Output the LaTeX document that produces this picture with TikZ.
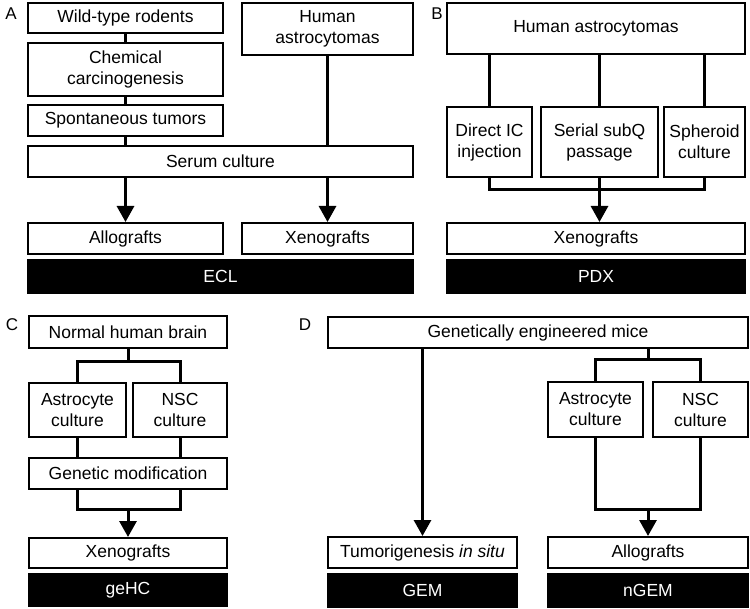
\documentclass[tikz,border=0pt]{standalone}
\usepackage{fontspec}
\setmainfont{Liberation Sans}
\usetikzlibrary{arrows.meta}
\newcommand\mkbox[7][]{%
  \node[bx,#1,minimum width={(#5-#3)*1pt},minimum height={(#6-#4)*1pt}] (#2) at ({(#3+#5)/2},{(#4+#6)/2}) {#7};}
\begin{document}
\begin{tikzpicture}[x=1pt,y=-1pt,
  bx/.style={draw,line width=2pt,inner sep=0pt,align=center,font=\fontsize{17.5}{21}\selectfont},
  blk/.style={fill=black,draw=black,text=white},
  conn/.style={line width=3pt},
  arr/.style={line width=3pt,-{Triangle[width=17pt,length=16pt]}},
  lbl/.style={font=\fontsize{17}{21}\selectfont,inner sep=0pt}]
\useasboundingbox (0,0) rectangle (750,609);
% labels
\node[lbl] (la) at (11,14) {A};
\node[lbl] (lb) at (437,14) {B};
\node[lbl] (lc) at (12,325) {C};
\node[lbl] (ld) at (305,325) {D};
% Panel A
\mkbox{wt}{28}{3}{223}{33}{Wild-type rodents}
\mkbox{cc}{28}{43}{223}{96}{Chemical\\carcinogenesis}
\mkbox{st}{28}{105}{223}{136}{Spontaneous tumors}
\mkbox{ha}{242}{3}{413}{55}{Human\\astrocytomas}
\mkbox{sc}{28}{146}{413}{177}{Serum culture}
\mkbox{allo}{28}{223}{223}{254}{Allografts}
\mkbox{xen}{242}{223}{413}{254}{Xenografts}
\mkbox[blk]{ecl}{28}{260}{413}{293}{ECL}
\draw[conn] (wt.south) -- (cc.north);
\draw[conn] (cc.south) -- (st.north);
\draw[conn] (st.south) -- (st.south |- sc.north);
\draw[conn] (ha.south) -- (ha.south |- sc.north);
\draw[arr] (sc.south -| allo.north) -- (allo.north);
\draw[arr] (sc.south -| xen.north) -- (xen.north);
% Panel B
\mkbox{hb}{447}{3}{745}{54}{Human astrocytomas}
\mkbox{dic}{447}{107}{532}{177}{Direct IC\\injection}
\mkbox{ssq}{541}{107}{658}{177}{Serial subQ\\passage}
\mkbox{sph}{664}{107}{745}{177}{Spheroid\\culture}
\mkbox{xb}{447}{223}{745}{254}{Xenografts}
\mkbox[blk]{pdx}{447}{260}{745}{293}{PDX}
\draw[conn] (hb.south -| dic.north) -- (dic.north);
\draw[conn] (hb.south -| ssq.north) -- (ssq.north);
\draw[conn] (hb.south -| sph.north) -- (sph.north);
\coordinate (bj) at (599.5,190);
\draw[conn] (dic.south) |- (bj) -| (sph.south);
\draw[arr] (ssq.south) -- (ssq.south |- xb.north);
% Panel C
\mkbox{nhb}{29}{316}{227}{348}{Normal human brain}
\mkbox{acc}{29}{383}{126}{437}{Astrocyte\\culture}
\mkbox{nscc}{133}{383}{227}{437}{NSC\\culture}
\mkbox{gm}{29}{458}{227}{489}{Genetic modification}
\mkbox{xc}{29}{538}{227}{568}{Xenografts}
\mkbox[blk]{gehc}{29}{574}{227}{606}{geHC}
\coordinate (cj1) at (128,362);
\coordinate (cj2) at (128,509);
\draw[conn] (nhb.south) -- (cj1);
\draw[conn] (acc.north) |- (cj1) -| (nscc.north);
\draw[conn] (acc.south) -- (acc.south |- gm.north);
\draw[conn] (nscc.south) -- (nscc.south |- gm.north);
\draw[conn] (acc.south |- gm.south) |- (cj2) -| (nscc.south |- gm.south);
\draw[arr] (cj2) -- (xc.north);
% Panel D
\mkbox{gem}{328}{317}{748}{348}{Genetically engineered mice}
\mkbox{acd}{548}{382}{643}{437}{Astrocyte\\culture}
\mkbox{nscd}{653}{382}{748}{437}{NSC\\culture}
\mkbox{tis}{328}{537}{517}{568}{Tumorigenesis \textit{in situ}}
\mkbox{ald}{548}{537}{748}{568}{Allografts}
\mkbox[blk]{gemb}{328}{574}{517}{607}{GEM}
\mkbox[blk]{ngem}{548}{574}{748}{607}{nGEM}
\coordinate (dj1) at (648,360);
\coordinate (dj2) at (648,509);
\draw[arr] (gem.south -| tis.north) -- (tis.north);
\draw[conn] (gem.south -| dj1) -- (dj1);
\draw[conn] (acd.north) |- (dj1) -| (nscd.north);
\draw[conn] (acd.south) |- (dj2) -| (nscd.south);
\draw[arr] (dj2) -- (ald.north);
\end{tikzpicture}
\end{document}
